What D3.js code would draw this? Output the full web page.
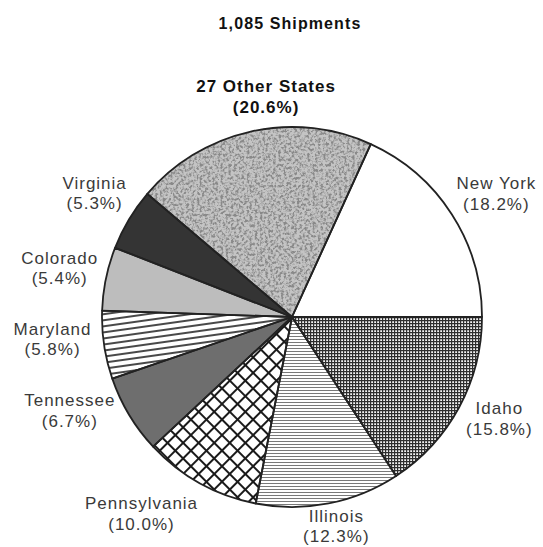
<!DOCTYPE html>
<html>
<head>
<meta charset="utf-8">
<script src="https://cdn.jsdelivr.net/npm/d3@7"></script>
<style>
  body { margin: 0; background: #fff; }
  text { font-family: "Liberation Sans", Arial, sans-serif; }
</style>
</head>
<body>
<div id="chart"></div>
<script>
// data
var states = ["New York", "Idaho", "Illinois", "Pennsylvania", "Tennessee",
              "Maryland", "Colorado", "Virginia", "27 Other States"];
var shares = [18.2, 15.8, 12.3, 10.0, 6.7, 5.8, 5.4, 5.3, 20.6];
var title = "1,085 Shipments";

var svgWidth = 543;
var svgHeight = 547;
var cx = 292, cy = 317, radius = 190;

// fills for each slice (same order as states)
var fills = ["#fff", "url(#grid)", "url(#hlines)", "url(#diag)", "#6e6e6e",
             "url(#mdlines)", "#bdbdbd", "#343434", "#c4c4c4"];

// label nudges from the arc centroid at labelRadius
var labelRadius = 230;
var nudges = [[11, 1], [5, -8], [0, -17], [-39, -5], [-25, -25],
              [-12, -12], [-7, -3], [0, -6], [24, 4]];

var svg = d3.select("#chart")
    .append("svg")
    .attr("width", svgWidth)
    .attr("height", svgHeight);

var defs = svg.append("defs");

// fine square grid (Idaho)
var grid = defs.append("pattern")
    .attr("id", "grid")
    .attr("width", 3).attr("height", 3)
    .attr("patternUnits", "userSpaceOnUse");
grid.append("rect").attr("width", 3).attr("height", 3).attr("fill", "#f4f4f4");
grid.append("path").attr("d", "M0,0.6H3M0.6,0V3")
    .attr("stroke", "#2e2e2e").attr("stroke-width", 1.2);

// fine horizontal lines (Illinois)
var hl = defs.append("pattern")
    .attr("id", "hlines")
    .attr("width", 6).attr("height", 3)
    .attr("patternUnits", "userSpaceOnUse");
hl.append("rect").attr("width", 6).attr("height", 3).attr("fill", "#fff");
hl.append("path").attr("d", "M0,1.5H6")
    .attr("stroke", "#6a6a6a").attr("stroke-width", 0.9);

// coarse diagonal cross hatch (Pennsylvania)
var dg = defs.append("pattern")
    .attr("id", "diag")
    .attr("width", 11).attr("height", 11)
    .attr("patternUnits", "userSpaceOnUse")
    .attr("patternTransform", "rotate(45)");
dg.append("rect").attr("width", 11).attr("height", 11).attr("fill", "#fff");
dg.append("path").attr("d", "M0,1H11M1,0V11")
    .attr("stroke", "#1a1a1a").attr("stroke-width", 2);

// medium horizontal lines (Maryland)
var ml = defs.append("pattern")
    .attr("id", "mdlines")
    .attr("width", 8).attr("height", 6)
    .attr("patternUnits", "userSpaceOnUse")
    .attr("patternTransform", "rotate(-8)");
ml.append("rect").attr("width", 8).attr("height", 6).attr("fill", "#fff");
ml.append("path").attr("d", "M0,1H8")
    .attr("stroke", "#1a1a1a").attr("stroke-width", 1.6);

// speckle texture (27 Other States)
var stip = defs.append("filter")
    .attr("id", "stipple")
    .attr("x", 0).attr("y", 0).attr("width", 1).attr("height", 1);
stip.append("feTurbulence")
    .attr("type", "fractalNoise")
    .attr("baseFrequency", 0.38)
    .attr("numOctaves", 3)
    .attr("seed", 4)
    .attr("result", "noise");
stip.append("feColorMatrix")
    .attr("in", "noise")
    .attr("type", "matrix")
    .attr("values", "0 0 0 0 0.25  0 0 0 0 0.25  0 0 0 0 0.25  -4 0 0 0 2.3")
    .attr("result", "dots");
stip.append("feComposite")
    .attr("in", "dots").attr("in2", "SourceGraphic")
    .attr("operator", "in").attr("result", "clipped");
var merge = stip.append("feMerge");
merge.append("feMergeNode").attr("in", "SourceGraphic");
merge.append("feMergeNode").attr("in", "clipped");

var start = 24.5 * Math.PI / 180;

var pie = d3.pie()
    .sort(null)
    .value(d => d)
    .startAngle(start)
    .endAngle(start + 2 * Math.PI);

var arcs = pie(shares);

var arc = d3.arc().innerRadius(0).outerRadius(radius);
var labelArc = d3.arc().innerRadius(labelRadius).outerRadius(labelRadius);

var chartGroup = svg.append("g")
    .attr("transform", `translate(${cx}, ${cy})`);

chartGroup.selectAll("path.slice")
    .data(arcs)
    .enter()
    .append("path")
    .attr("class", "slice")
    .attr("d", arc)
    .attr("fill", (d, i) => fills[i])
    .attr("filter", (d, i) => i == 8 ? "url(#stipple)" : null);

// outlines on top
chartGroup.selectAll("path.edge")
    .data(arcs)
    .enter()
    .append("path")
    .attr("class", "edge")
    .attr("d", arc)
    .attr("fill", "none")
    .attr("stroke", "#222")
    .attr("stroke-width", 1.8)
    .attr("stroke-linejoin", "round");

// labels
var labels = svg.append("g")
    .selectAll("text")
    .data(arcs)
    .enter()
    .append("text")
    .attr("text-anchor", "middle")
    .attr("font-size", "17px")
    .attr("letter-spacing", "1px")
    .attr("font-weight", (d, i) => i == 8 ? "bold" : "normal")
    .attr("fill", (d, i) => i == 8 ? "#111" : "#3a3a3a")
    .attr("transform", (d, i) => {
        var c = labelArc.centroid(d);
        return `translate(${cx + c[0] + nudges[i][0]}, ${cy + c[1] + nudges[i][1]})`;
    });

labels.append("tspan")
    .attr("x", 0)
    .attr("y", -4)
    .text((d, i) => states[i]);

labels.append("tspan")
    .attr("x", 0)
    .attr("y", 16.5)
    .text(d => `(${d.data.toFixed(1)}%)`);

svg.append("text")
    .attr("x", 290)
    .attr("y", 29)
    .attr("text-anchor", "middle")
    .attr("font-size", "16px")
    .attr("font-weight", "bold")
    .attr("letter-spacing", "1.1px")
    .attr("fill", "#111")
    .text(title);
</script>
</body>
</html>
